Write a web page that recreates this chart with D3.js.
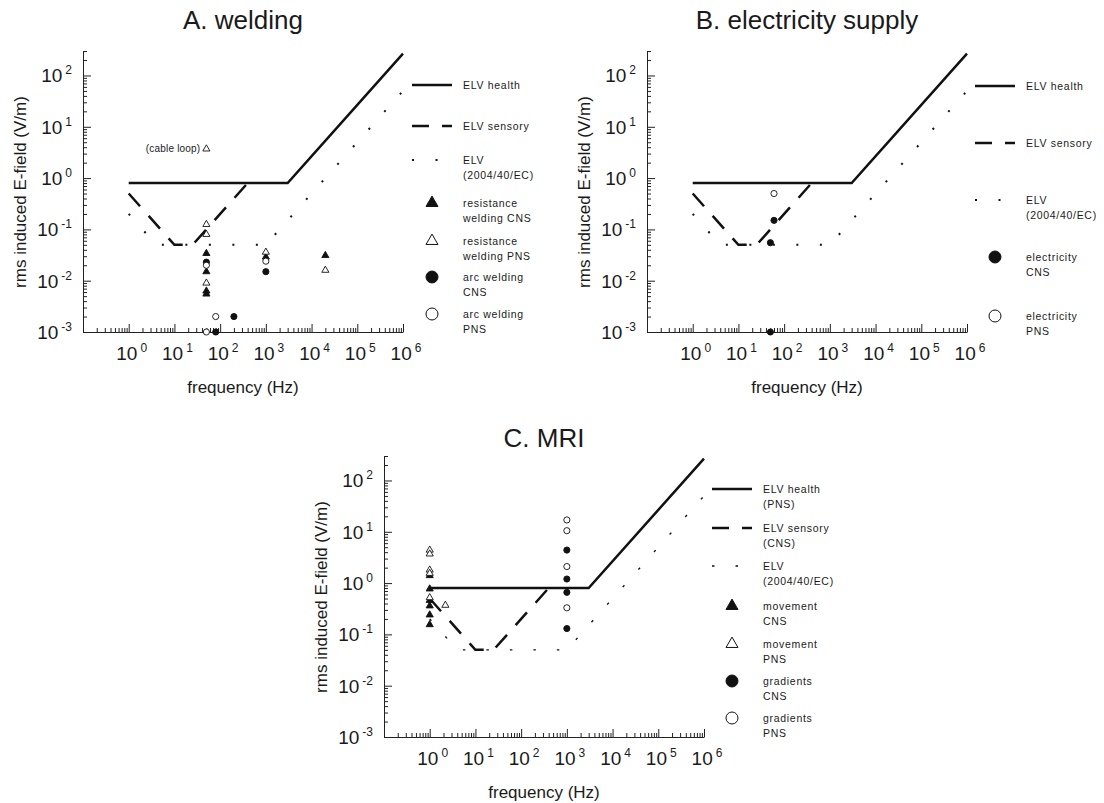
<!DOCTYPE html>
<html>
<head>
<meta charset="utf-8">
<script src="https://cdn.jsdelivr.net/npm/d3@7/dist/d3.min.js"></script>
<style>
    body { margin: 0; background: #fff; }
    text { font-family: "Liberation Sans", Arial, sans-serif; fill: #1a1a1a; }
</style>
</head>
<body>
<svg id="chart" width="1104" height="803"></svg>
<script>
// all values: [frequency (Hz), rms induced E-field (V/m)]
const elvHealth = [[1, 0.8], [3000, 0.8], [1e6, 267]];
const elvSensory = [[1, 0.5], [10, 0.05], [25, 0.05], [400, 0.8]];
const elv2004 = [[1, 0.2], [4, 0.05], [1000, 0.05], [1e6, 50]];

const resistanceCNS = [[50, 0.034], [50, 0.015], [50, 0.0063], [50, 0.0055], [1000, 0.029], [20000, 0.031]];
const resistancePNS = [[50, 0.125], [50, 0.08], [50, 0.009], [1000, 0.036], [20000, 0.016], [50, 3.7]];
const arcCNS = [[50, 0.023], [200, 0.002], [80, 0.001], [1000, 0.015]];
const arcPNS = [[50, 0.02], [80, 0.002], [50, 0.001], [1000, 0.024]];

const electricityCNS = [[60, 0.15], [50, 0.055], [50, 0.001]];
const electricityPNS = [[60, 0.5]];

const movementCNS = [[1, 1.4], [1, 0.77], [1, 0.46], [1, 0.36], [1, 0.24], [1, 0.155]];
const movementPNS = [[1, 4.4], [1, 3.7], [1, 1.8], [1, 1.55], [1, 0.52], [2.2, 0.37]];
const gradientsCNS = [[1000, 4.4], [1000, 1.2], [1000, 0.66], [1000, 0.13]];
const gradientsPNS = [[1000, 17], [1000, 10.5], [1000, 2.1], [1000, 0.33]];

const xDecades = [0, 1, 2, 3, 4, 5, 6];
const yDecades = [-3, -2, -1, 0, 1, 2];

const panels = [
    {
        title: "A. welding", left: 83, top: 51, titleY: 29,
        limitNames: [["ELV health"], ["ELV sensory"], ["ELV", "(2004/40/EC)"]],
        series: [
            {name: ["resistance", "welding CNS"], symbol: "triangle", filled: true, values: resistanceCNS},
            {name: ["resistance", "welding PNS"], symbol: "triangle", filled: false, values: resistancePNS},
            {name: ["arc welding", "CNS"], symbol: "circle", filled: true, values: arcCNS},
            {name: ["arc welding", "PNS"], symbol: "circle", filled: false, values: arcPNS},
        ],
        legendX: 412, legendY: [85, 126, 160, 203, 241, 277, 314],
        note: {text: "(cable loop)", at: [50, 3.7]},
    },
    {
        title: "B. electricity supply", left: 647, top: 51, titleY: 29,
        limitNames: [["ELV health"], ["ELV sensory"], ["ELV", "(2004/40/EC)"]],
        series: [
            {name: ["electricity", "CNS"], symbol: "circle", filled: true, values: electricityCNS},
            {name: ["electricity", "PNS"], symbol: "circle", filled: false, values: electricityPNS},
        ],
        legendX: 975, legendY: [86, 143, 200, 257, 316],
    },
    {
        title: "C. MRI", left: 384, top: 456, titleY: 447, thinDots: true,
        limitNames: [["ELV health", "(PNS)"], ["ELV sensory", "(CNS)"], ["ELV", "(2004/40/EC)"]],
        series: [
            {name: ["movement", "CNS"], symbol: "triangle", filled: true, values: movementCNS},
            {name: ["movement", "PNS"], symbol: "triangle", filled: false, values: movementPNS},
            {name: ["gradients", "CNS"], symbol: "circle", filled: true, values: gradientsCNS},
            {name: ["gradients", "PNS"], symbol: "circle", filled: false, values: gradientsPNS},
        ],
        legendX: 712, legendY: [489, 528, 566, 606, 644, 681, 718],
    },
];

const plotWidth = 320;
const plotHeight = 281;
const ink = "#111";

const svg = d3.select("#chart");

function symbolPath(kind, size) {
    let type = kind === "triangle" ? d3.symbolTriangle : d3.symbolCircle;
    return d3.symbol().type(type).size(size)();
}

function limitStyle(sel, kind, thinDots) {
    sel.attr("fill", "none").attr("stroke", ink);
    if (kind === 0) {
        sel.attr("stroke-width", 2.5);
    } else if (kind === 1) {
        sel.attr("stroke-width", 2.5).attr("stroke-dasharray", "17,13");
    } else {
        sel.attr("stroke-width", thinDots ? 1.4 : 2)
            .attr("stroke-dasharray", thinDots ? "2.5,21" : "2,21.5");
    }
    return sel;
}

function powerLabel(sel, exponent) {
    sel.append("tspan").text("10");
    sel.append("tspan")
        .attr("font-size", 12)
        .attr("dx", 3)
        .attr("dy", -8)
        .text(exponent);
}

function drawPanel(p) {
    let x = d3.scaleLog().domain([0.1, 1e6]).range([p.left, p.left + plotWidth]);
    let y = d3.scaleLog().domain([1e-3, 300]).range([p.top + plotHeight, p.top]);
    let bottom = p.top + plotHeight;
    let g = svg.append("g");

    // minor + major ticks, pointing inwards
    let xMinor = [];
    for (let k = -1; k < 6; k++) {
        for (let m = 2; m < 10; m++) xMinor.push(m * Math.pow(10, k));
    }
    let yMinor = [];
    for (let k = -3; k < 3; k++) {
        for (let m = 2; m < 10; m++) {
            if (m * Math.pow(10, k) <= 300) yMinor.push(m * Math.pow(10, k));
        }
    }

    g.append("g")
        .attr("transform", `translate(0,${bottom})`)
        .call(d3.axisBottom(x).tickValues(xMinor).tickSize(-4).tickSizeOuter(0).tickFormat(""));
    g.append("g")
        .attr("transform", `translate(0,${bottom})`)
        .call(d3.axisBottom(x).tickValues(xDecades.map(d => Math.pow(10, d))).tickSize(-8).tickSizeOuter(0).tickFormat(""))
        .call(a => a.select(".domain").remove());
    g.append("g")
        .attr("transform", `translate(${p.left},0)`)
        .call(d3.axisLeft(y).tickValues(yMinor).tickSize(-4).tickSizeOuter(0).tickFormat(""));
    g.append("g")
        .attr("transform", `translate(${p.left},0)`)
        .call(d3.axisLeft(y).tickValues(yDecades.map(d => Math.pow(10, d))).tickSize(-8).tickSizeOuter(0).tickFormat(""))
        .call(a => a.select(".domain").remove());
    g.selectAll(".domain, .tick line").attr("stroke", "#222").attr("stroke-width", 1);

    xDecades.forEach(function (d) {
        let t = g.append("text")
            .attr("x", x(Math.pow(10, d)) + 3)
            .attr("y", bottom + 28)
            .attr("text-anchor", "middle")
            .attr("font-size", 19);
        powerLabel(t, d);
    });
    yDecades.forEach(function (d) {
        let t = g.append("text")
            .attr("x", p.left - 11)
            .attr("y", y(Math.pow(10, d)) + 7)
            .attr("text-anchor", "end")
            .attr("font-size", 19);
        powerLabel(t, d);
    });

    g.append("text")
        .attr("x", p.left + plotWidth / 2)
        .attr("y", p.titleY)
        .attr("text-anchor", "middle")
        .attr("font-size", 26)
        .text(p.title);

    g.append("text")
        .attr("x", p.left + plotWidth / 2)
        .attr("y", bottom + 61)
        .attr("text-anchor", "middle")
        .attr("font-size", 17)
        .text("frequency (Hz)");

    g.append("text")
        .attr("transform", `translate(${p.left - 57},${p.top + 141}) rotate(-90)`)
        .attr("text-anchor", "middle")
        .attr("font-size", 17)
        .text("rms induced E-field (V/m)");

    // limit curves
    let line = d3.line().x(d => x(d[0])).y(d => y(d[1]));
    [elvHealth, elvSensory, elv2004].forEach(function (curve, i) {
        g.append("path").attr("d", line(curve)).call(limitStyle, i, p.thinDots);
    });

    // exposure data
    p.series.forEach(function (s) {
        let size = s.symbol === "triangle" ? 22 : 30;
        g.append("g").selectAll("path")
            .data(s.values)
            .join("path")
            .attr("d", symbolPath(s.symbol, size))
            .attr("transform", d => `translate(${x(d[0])},${y(d[1])})`)
            .attr("fill", s.filled ? ink : "#fff")
            .attr("stroke", ink)
            .attr("stroke-width", 0.9);
    });

    if (p.note) {
        g.append("text")
            .attr("x", x(p.note.at[0]) - 6)
            .attr("y", y(p.note.at[1]) + 3)
            .attr("text-anchor", "end")
            .attr("font-size", 10)
            .attr("letter-spacing", 0.2)
            .text(p.note.text);
    }

    // legend
    let legend = g.append("g");
    let textX = p.legendX + 51;
    let addText = function (lines, ly) {
        lines.forEach(function (l, j) {
            legend.append("text")
                .attr("x", textX)
                .attr("y", ly + 4 + j * 15)
                .attr("font-size", 10.5)
                .attr("letter-spacing", 0.7)
                .text(l);
        });
    };
    p.limitNames.forEach(function (names, i) {
        let ly = p.legendY[i];
        legend.append("line")
            .attr("x1", p.legendX).attr("x2", p.legendX + 40)
            .attr("y1", ly).attr("y2", ly)
            .call(limitStyle, i, p.thinDots);
        addText(names, ly);
    });
    p.series.forEach(function (s, i) {
        let ly = p.legendY[i + 3];
        let size = s.symbol === "triangle" ? 62 : 113;
        legend.append("path")
            .attr("d", symbolPath(s.symbol, size))
            .attr("transform", `translate(${p.legendX + 20},${ly})`)
            .attr("fill", s.filled ? ink : "#fff")
            .attr("stroke", ink)
            .attr("stroke-width", 1);
        addText(s.name, ly);
    });
}

panels.forEach(drawPanel);
</script>
</body>
</html>
